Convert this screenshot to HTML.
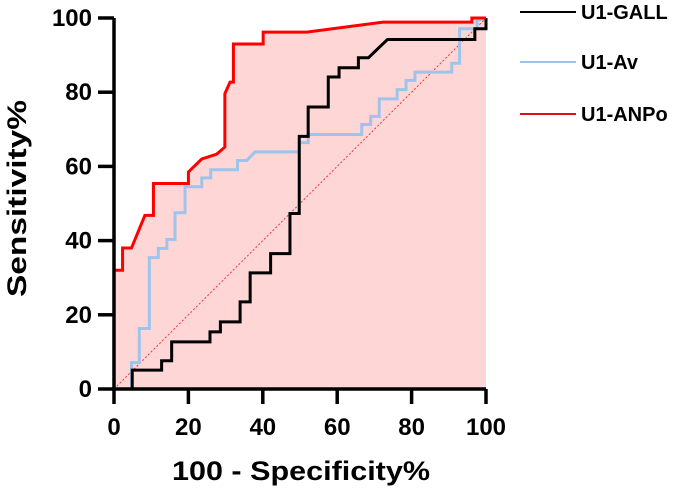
<!DOCTYPE html>
<html><head><meta charset="utf-8"><style>
body{margin:0;background:#fff}
svg{display:block;font-family:"Liberation Sans",Arial,sans-serif;font-weight:bold}
</style></head><body>
<svg id="chart" width="685" height="493" viewBox="0 0 685 493"></svg>
<script>
const xTicks=[0,20,40,60,80,100];
const yTicks=[0,20,40,60,80,100];
const seriesNames=["U1-GALL","U1-Av","U1-ANPo"];
const anpoX=[0,0,2.3,2.3,4.7,8.3,10.6,10.6,20,20,23.6,27.6,29.8,29.8,31.2,32.1,32.1,40.1,40.1,51.8,72.4,96.2,96.2,100];
const anpoY=[0,32,32,38,38,46.8,46.8,55.4,55.4,58.5,62,63.3,65.2,79.6,82.7,82.7,93,93,96.2,96.2,98.9,98.9,100,100];
const gallX=[0,4.9,4.9,12.8,12.8,15.5,15.5,25.8,25.8,28.6,28.6,33.9,33.9,36.6,36.6,42.1,42.1,47.3,47.3,49.8,49.8,52.2,52.2,57.6,57.6,60.5,60.5,65.7,65.7,68.4,73.5,97,97,100,100];
const gallY=[0,0,5.1,5.1,7.6,7.6,12.7,12.7,15.4,15.4,18.1,18.1,23.5,23.5,31.3,31.3,36.5,36.5,47.3,47.3,68.1,68.1,76,76,84.1,84.1,86.6,86.6,89.3,89.3,94.2,94.2,97.1,97.1,100];
const avX=[0,4.7,4.7,6.8,6.8,9.5,9.5,11.9,11.9,14.2,14.2,16.4,16.4,19.1,19.1,23.6,23.6,26,26,33.2,33.2,35.7,37.9,49.8,49.8,52.2,52.2,66.6,66.6,69,69,71.3,71.3,76.1,76.1,78.5,78.5,80.9,80.9,90.8,90.8,92.9,92.9,97.6,97.6,100];
const avY=[0,0,7.1,7.1,16.3,16.3,35.4,35.4,37.9,37.9,40.3,40.3,47.5,47.5,54.5,54.5,56.9,56.9,59.1,59.1,61.6,61.6,63.9,63.9,66.4,66.4,68.6,68.6,71.3,71.3,73.5,73.5,78.2,78.2,80.7,80.7,83.2,83.2,85.4,85.4,87.8,87.8,97.1,97.1,99.4,100];

const svg=document.getElementById('chart');
const NS='http://www.w3.org/2000/svg';
const X0=114,X1=486,Y0=389,Y1=18;
const sx=v=>X0+(X1-X0)*v/100;
const sy=v=>Y0-(Y0-Y1)*v/100;
function mk(tag,attrs){const e=document.createElementNS(NS,tag);for(const k in attrs)e.setAttribute(k,attrs[k]);svg.appendChild(e);return e;}
function pts(xs,ys){return xs.map((x,i)=>sx(x)+','+sy(ys[i])).join(' ');}

let area=mk('polygon',{points:pts(anpoX,anpoY)+' '+sx(100)+','+sy(0),fill:'#ffd6d6',stroke:'none'});



let diag=mk('line',{x1:sx(0),y1:sy(0),x2:sx(100),y2:sy(100),stroke:'#ff3030','stroke-width':1,'stroke-dasharray':'2,2'});



let la=mk('polyline',{points:pts(avX,avY),fill:'none',stroke:'#9fc4ec','stroke-width':3});


let lg=mk('polyline',{points:pts(gallX,gallY),fill:'none',stroke:'#000','stroke-width':3});


let lr=mk('polyline',{points:pts(anpoX,anpoY),fill:'none',stroke:'#ff0000','stroke-width':3});



let ax=mk('polyline',{points:`${X0},${Y1} ${X0},${Y0} ${X1},${Y0}`,fill:'none',stroke:'#000','stroke-width':3.5});



xTicks.forEach(t=>{
  let l=mk('line',{x1:sx(t),y1:Y0,x2:sx(t),y2:Y0+15,stroke:'#000','stroke-width':3.5});
  
  
  let tx=mk('text',{x:sx(t),y:435,'text-anchor':'middle','font-size':24});
  tx.textContent=t;
  
  
});
yTicks.forEach(t=>{
  let l=mk('line',{x1:X0-16,y1:sy(t),x2:X0,y2:sy(t),stroke:'#000','stroke-width':3.5});
  
  
  let tx=mk('text',{x:92,y:sy(t)+8,'text-anchor':'end','font-size':24});
  tx.textContent=t;
  
  
});
let xt=mk('text',{x:172,y:480,'font-size':27,textLength:258,lengthAdjust:'spacingAndGlyphs'});
xt.textContent='100 - Specificity%';


let yt=mk('text',{x:0,y:0,'font-size':27,textLength:197,lengthAdjust:'spacingAndGlyphs',transform:'translate(26,297) rotate(-90)'});
yt.textContent='Sensitivity%';



const legColors=['#000','#9fc4ec','#e0101a'];
const legY=[12,62,114];
seriesNames.forEach((n,i)=>{
  let l=mk('line',{x1:520,y1:legY[i],x2:576,y2:legY[i],stroke:legColors[i],'stroke-width':2});
  
  
  let t=mk('text',{x:581,y:legY[i]+7,'font-size':20});
  t.textContent=n;
  
  
});
</script>
</body></html>
